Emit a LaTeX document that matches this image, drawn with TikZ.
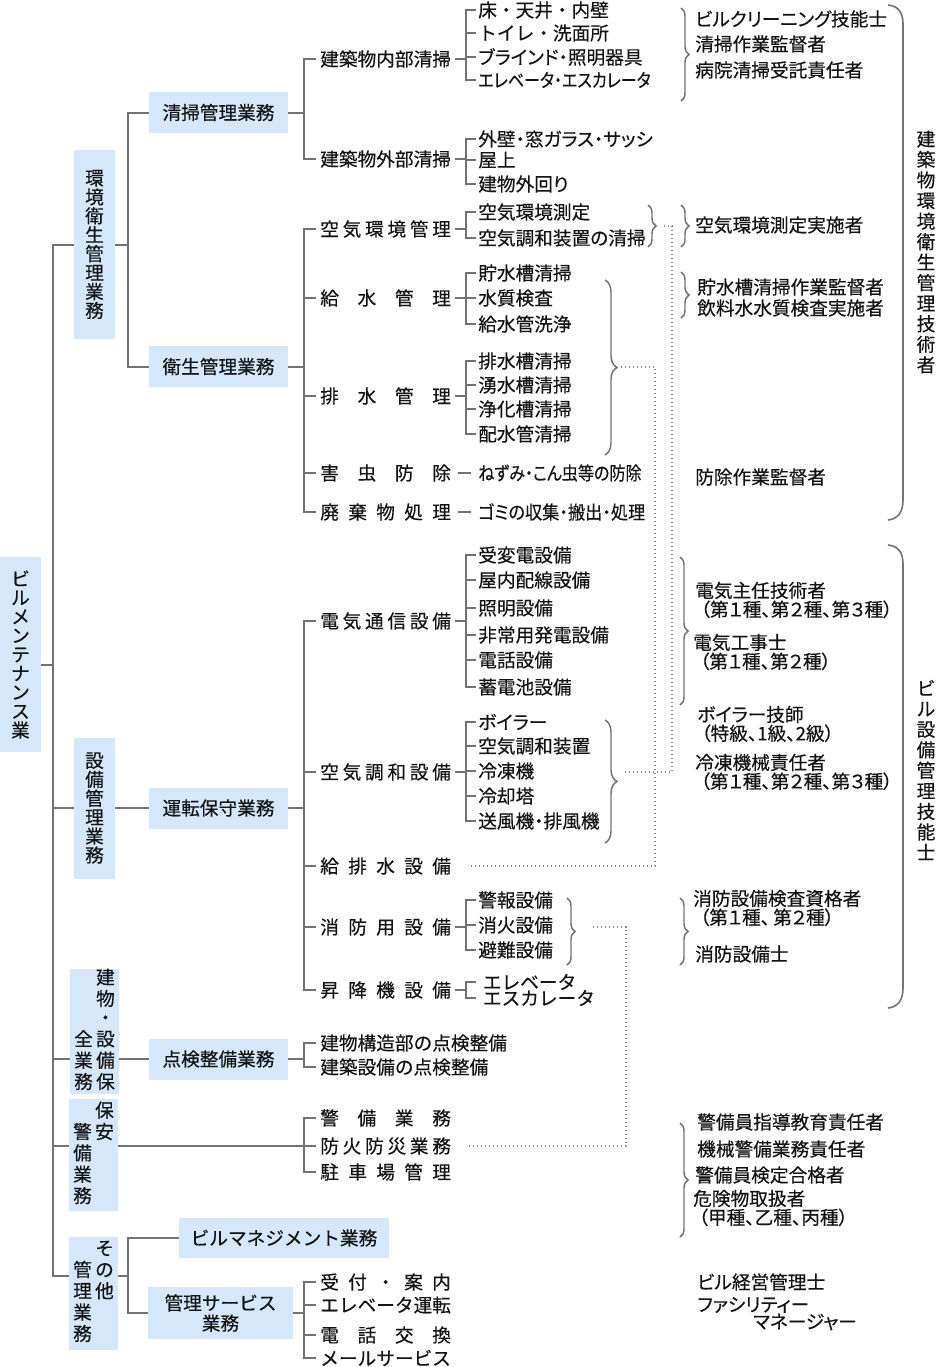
\documentclass[tikz,border=0pt]{standalone}
\usepackage{fontspec}
\setmainfont{Noto Sans CJK JP}[FakeBold=0.4]
\newfontfamily\pjp{Noto Sans CJK JP}[RawFeature=+palt, FakeBold=0.4]
\usepackage{tikz}
\usetikzlibrary{decorations.pathreplacing}

\definecolor{boxblue}{HTML}{D5E8FB}
\definecolor{linegray}{HTML}{737373}
\definecolor{textgray}{HTML}{141414}

\newcommand{\spr}[1]{\makebox[98pt][s]{#1}}

\begin{document}
\begin{tikzpicture}
	[x=0.75pt, y=-0.75pt,
	 every node/.style={text=textgray, font=\fontsize{14pt}{14.2pt}\selectfont},
	 box/.style={fill=boxblue, inner sep=0pt, align=center},
	 item/.style={anchor=west, inner xsep=3pt, inner ysep=0pt},
	 leaf/.style={anchor=west, inner xsep=1.5pt, inner ysep=0pt, font=\fontsize{14pt}{14.2pt}\pjp},
	 qual/.style={anchor=west, inner sep=0pt, align=left, font=\fontsize{14pt}{13pt}\pjp},
	 line/.style={draw=linegray, line width=1.5pt},
	 dots/.style={draw=linegray!85, line width=1pt, dotted},
	 brace/.style={draw=linegray, line width=1.1pt, decorate, decoration={brace, amplitude=6pt}},
	 bigbrk/.style={draw=linegray, line width=1.2pt}]
	\useasboundingbox (0,0) rectangle (937,1367);

	% boxes
	\node[box, minimum width=30.75pt, minimum height=146.25pt] (root) at (20.5,654.5) {ビ\\ル\\メ\\ン\\テ\\ナ\\ン\\ス\\業};
	\node[box, minimum width=30.75pt, minimum height=141.75pt] (kankyo) at (94.5,244.5) {環\\境\\衛\\生\\管\\理\\業\\務};
	\node[box, minimum width=30.75pt, minimum height=105.75pt] (setsubi) at (94.5,808) {設\\備\\管\\理\\業\\務};
	\node[box, minimum width=36.75pt, minimum height=84.75pt] (hozen) at (94.5,1031.5)
		{\begin{tabular}{@{}c@{\hspace{2.5pt}}c@{}} & 建\\ & 物\\ & ・\\ 全 & 設\\ 業 & 備\\ 務 & 保\end{tabular}};
	\node[box, minimum width=36.75pt, minimum height=84pt] (keibi) at (93.5,1155)
		{\begin{tabular}{@{}c@{\hspace{2.5pt}}c@{}} & 保\\ 警 & 安\\ 備 & \\ 業 & \\ 務 & \end{tabular}};
	\node[box, minimum width=36.75pt, minimum height=84.75pt] (sonota) at (93.5,1293.5)
		{\begin{tabular}{@{}c@{\hspace{2.5pt}}c@{}} & そ\\ 管 & の\\ 理 & 他\\ 業 & \\ 務 & \end{tabular}};
	\node[box, minimum width=104.25pt, minimum height=30.75pt] (seisou) at (218.5,112.5) {清掃管理業務};
	\node[box, minimum width=104.25pt, minimum height=30.75pt] (eisei) at (218.5,366.5) {衛生管理業務};
	\node[box, minimum width=104.25pt, minimum height=30.75pt] (unten) at (218.5,808) {運転保守業務};
	\node[box, minimum width=104.25pt, minimum height=30.75pt] (tenken) at (218.5,1059) {点検整備業務};
	\node[box, minimum width=157.5pt, minimum height=30pt] (bm) at (284,1238) {ビルマネジメント業務};
	\node[box, minimum width=108.75pt, minimum height=39pt] (kanri) at (220.5,1313) {管理サービス\\[1pt]業務};

	% junction columns
	\coordinate (trunk) at (53,0);
	\coordinate (v2) at (128,0);
	\coordinate (v3) at (304,0);
	\coordinate (v4) at (466,0);
	\coordinate (rootJ) at (41,665);
	\coordinate (sonotaJ) at (69,1276);

	% third level
	\node[item] (naibu) at (316,59) {\spr{建築物内部清掃}};
	\node[item] (gaibu) at (316,159) {\spr{建築物外部清掃}};
	\node[item] (kuuki) at (316,229) {\spr{空\hfill 気\hfill 環\hfill 境\hfill 管\hfill 理}};
	\node[item] (kyusui) at (316,298) {\spr{給\hfill 水\hfill 管\hfill 理}};
	\node[item] (haisui) at (316,396) {\spr{排\hfill 水\hfill 管\hfill 理}};
	\node[item] (gaichu) at (316,473) {\spr{害\hfill 虫\hfill 防\hfill 除}};
	\node[item] (haiki) at (316,512) {\spr{廃\hfill 棄\hfill 物\hfill 処\hfill 理}};
	\node[item] (denki) at (316,621) {\spr{電\hfill 気\hfill 通\hfill 信\hfill 設\hfill 備}};
	\node[item] (kucho) at (316,772) {\spr{空\hfill 気\hfill 調\hfill 和\hfill 設\hfill 備}};
	\node[item] (kyuhai) at (316,866) {\spr{給\hfill 排\hfill 水\hfill 設\hfill 備}};
	\node[item] (shobo) at (316,927) {\spr{消\hfill 防\hfill 用\hfill 設\hfill 備}};
	\node[item] (shoko) at (316,990) {\spr{昇\hfill 降\hfill 機\hfill 設\hfill 備}};
	\node[item] (kozo) at (316,1043) {建物構造部の点検整備};
	\node[item] (kenchiku) at (316,1067) {建築設備の点検整備};
	\node[item] (keibigyo) at (316,1118) {\spr{警\hfill 備\hfill 業\hfill 務}};
	\node[item] (bouka) at (316,1146) {\spr{防\hfill 火\hfill 防\hfill 災\hfill 業\hfill 務}};
	\node[item] (chusha) at (316,1172) {\spr{駐\hfill 車\hfill 場\hfill 管\hfill 理}};
	\node[item] (uketsuke) at (316,1282) {\spr{受\hfill 付\hfill ・\hfill 案\hfill 内}};
	\node[item] (elev) at (316,1305) {\spr{エレベータ運転}};
	\node[item] (denwa) at (316,1335) {\spr{電\hfill 話\hfill 交\hfill 換}};
	\node[item] (mail) at (316,1358) {\spr{メールサービス}};

	% trunk and second level
	\draw[line] (rootJ) -- (rootJ -| trunk);
	\draw[line] (kankyo.west) -- (kankyo.west -| trunk) |- (sonotaJ);
	\draw[line] (setsubi.west) -- (setsubi.west -| trunk);
	\draw[line] (hozen.west |- tenken) -- (trunk |- tenken);
	\draw[line] (keibi.west |- bouka) -- (trunk |- bouka);
	\draw[line] (kankyo.east) -- (kankyo.east -| v2);
	\draw[line] (seisou.west) -- (seisou.west -| v2) -- (eisei.west -| v2) -- (eisei.west);
	\draw[line] (setsubi.east) -- (unten.west);
	\draw[line] (hozen.east |- tenken) -- (tenken.west);
	\draw[line] (sonotaJ -| sonota.east) -- (sonotaJ -| v2);
	\draw[line] (bm.west) -- (bm.west -| v2) -- (kanri.west -| v2) -- (kanri.west);

	% second to third level
	\draw[line] (seisou.east) -- (seisou.east -| v3);
	\draw[line] (naibu.west) -- (naibu.west -| v3) -- (gaibu.west -| v3) -- (gaibu.west);
	\draw[line] (eisei.east) -- (eisei.east -| v3);
	\draw[line] (kuuki.west) -- (kuuki.west -| v3) -- (haiki.west -| v3) -- (haiki.west);
	\foreach \n in {kyusui, haisui, gaichu}
		\draw[line] (\n.west) -- (\n.west -| v3);
	\draw[line] (unten.east) -- (unten.east -| v3);
	\draw[line] (denki.west) -- (denki.west -| v3) -- (shoko.west -| v3) -- (shoko.west);
	\foreach \n in {kucho, kyuhai, shobo}
		\draw[line] (\n.west) -- (\n.west -| v3);
	\draw[line] (tenken.east) -- (tenken.east -| v3);
	\draw[line] (kozo.west) -- (kozo.west -| v3) -- (kenchiku.west -| v3) -- (kenchiku.west);
	\draw[line] (keibigyo.west) -- (keibigyo.west -| v3) -- (chusha.west -| v3) -- (chusha.west);
	\draw[line] (keibi.east |- bouka) -- (bouka.west);
	\draw[line] (kanri.east) -- (kanri.east -| v3);
	\draw[line] (uketsuke.west) -- (uketsuke.west -| v3) -- (mail.west -| v3) -- (mail.west);
	\foreach \n in {elev, denwa}
		\draw[line] (\n.west) -- (\n.west -| v3);

	% leaves
	\foreach \t/\y [count=\i] in {{\rmfamily 床・天井・内壁}/10, {\rmfamily トイレ・洗面所}/33, ブラインド・照明器具/57, {\scalebox{0.86}[1]{エレベータ・エスカレータ}}/80}
		\node[leaf] (a\i) at (476,\y) {\t};
	\foreach \t/\y [count=\i] in {外壁・窓ガラス・サッシ/139, 屋上/160, 建物外回り/184}
		\node[leaf] (b\i) at (476,\y) {\t};
	\foreach \t/\y [count=\i] in {空気環境測定/212, 空気調和装置の清掃/238}
		\node[leaf] (c\i) at (476,\y) {\t};
	\foreach \t/\y [count=\i] in {貯水槽清掃/273, 水質検査/298, 給水管洗浄/324}
		\node[leaf] (d\i) at (476,\y) {\t};
	\foreach \t/\y [count=\i] in {排水槽清掃/361, 湧水槽清掃/385, 浄化槽清掃/409, 配水管清掃/434}
		\node[leaf] (e\i) at (476,\y) {\t};
	\foreach \t/\y [count=\i] in {受変電設備/555, 屋内配線設備/580, 照明設備/608, 非常用発電設備/635, 電話設備/660, 蓄電池設備/687}
		\node[leaf] (f\i) at (476,\y) {\t};
	\foreach \t/\y [count=\i] in {ボイラー/722, 空気調和装置/746, 冷凍機/771, 冷却塔/796, 送風機・排風機/821}
		\node[leaf] (g\i) at (476,\y) {\t};
	\foreach \t/\y [count=\i] in {警報設備/900, 消火設備/925, 避難設備/950}
		\node[leaf] (h\i) at (476,\y) {\t};
	\foreach \t/\y [count=\i] in {エレベータ/982, エスカレータ/998}
		\node[leaf, inner xsep=5pt] (i\i) at (476,\y) {\rmfamily\t};
	\node[leaf] (nezumi) at (476,473) {\scalebox{0.86}[1]{ねずみ・こん虫等の防除}};
	\node[leaf] (gomi) at (476,512) {\scalebox{0.92}[1]{ゴミの収集・搬出・処理}};

	% third to fourth level
	\foreach \p/\g/\n in {naibu/a/4, gaibu/b/3, kuuki/c/2, kyusui/d/3, haisui/e/4, denki/f/6, kucho/g/5, shobo/h/3, shoko/i/2} {
		\draw[line] (\p.east) -- (\p.east -| v4);
		\draw[line] (\g1.west) -- (\g1.west -| v4) -- (\g\n.west -| v4) -- (\g\n.west);
		\foreach \i in {2,...,\n}
			\draw[line] (\g\i.west) -- (\g\i.west -| v4);
	}
	\draw[line, shorten <=2pt, shorten >=4pt] (gaichu.east) -- (nezumi.west);
	\draw[line, shorten <=2pt, shorten >=4pt] (haiki.east) -- (gomi.west);

	% qualifications
	\node[qual] (q1) at (695,19) {ビルクリーニング技能士};
	\node[qual] (q2) at (695,44) {清掃作業監督者};
	\node[qual] (q3) at (695,70) {病院清掃受託責任者};
	\node[qual] (q4) at (695,225) {空気環境測定実施者};
	\node[qual] (q5) at (697,287) {貯水槽清掃作業監督者};
	\node[qual] (q6) at (697,308) {飲料水水質検査実施者};
	\node[qual] (q7) at (695,477) {防除作業監督者};
	\node[qual] (q8) at (695,600) {電気主任技術者\\\hspace*{4pt}（第１種、第２種、第３種）};
	\node[qual] (q9) at (693,652) {電気工事士\\\hspace*{5pt}（第１種、第２種）};
	\node[qual] (q10) at (697,724) {ボイラー技師\\\hspace*{3pt}（特級、1級、2級）};
	\node[qual] (q11) at (695,772) {冷凍機械責任者\\\hspace*{4pt}（第１種、第２種、第３種）};
	\node[qual] (q12) at (693,908) {消防設備検査資格者\\\hspace*{5pt}（第１種、\,第２種）};
	\node[qual] (q13) at (695,954) {消防設備士};
	\node[qual] (q14) at (697,1122) {警備員指導教育責任者};
	\node[qual] (q15) at (697,1149) {機械警備業務責任者};
	\node[qual] (q16) at (695,1175) {警備員検定合格者};
	\node[qual] (q17) at (693,1208) {危険物取扱者\\\hspace*{4pt}（甲種、乙種、丙種）};
	\node[qual] (q18) at (697,1282) {ビル経営管理士};
	\node[qual] (q19) at (697,1305) {ファシリティー};
	\node[qual] (q20) at (753,1322) {マネージャー};

	\node[align=center, font=\fontsize{14pt}{15.4pt}\selectfont] (tech1) at (926,252) {建\\築\\物\\環\\境\\衛\\生\\管\\理\\技\\術\\者};
	\node[align=center, font=\fontsize{14pt}{15.4pt}\selectfont] (tech2) at (926,770) {ビ\\ル\\設\\備\\管\\理\\技\\能\\士};

	% braces
	\draw[brace] (681,8) -- (681,101);
	\draw[brace] (681,205) -- (681,247);
	\draw[brace] (648,205) -- (648,247);
	\draw[brace] (681,272) -- (681,318);
	\draw[brace, decoration={amplitude=9pt}] (605,280) -- (605,455);
	\draw[brace] (680,557) -- (680,705);
	\draw[brace, decoration={amplitude=9pt}] (605,720) -- (605,843);
	\draw[brace] (567,898) -- (567,965);
	\draw[brace] (680,898) -- (680,965);
	\draw[brace] (680,1123) -- (680,1237);
	\draw[bigbrk] (888,5) .. controls (898,6) and (903,12) .. (903,24) -- (903,500) .. controls (903,512) and (898,519) .. (888,520);
	\draw[bigbrk] (888,545) .. controls (898,546) and (903,552) .. (903,564) -- (903,988) .. controls (903,1000) and (898,1007) .. (888,1008);

	% dotted links
	\coordinate (ctip) at (664,226);
	\coordinate (actip) at (625,772);
	\coordinate (dtip) at (621,367);
	\coordinate (ftip) at (593,927);
	\coordinate (col1) at (672,0);
	\coordinate (col2) at (655,0);
	\coordinate (col3) at (626,0);
	\draw[dots] (ctip) -- (ctip -| col1) -- (col1 |- actip) -- (actip);
	\draw[dots, shorten >=10pt] (dtip) -- (dtip -| col2) -- (col2 |- kyuhai.east) -- (kyuhai.east);
	\draw[dots, shorten >=10pt] (ftip) -- (ftip -| col3) -- (col3 |- bouka.east) -- (bouka.east);
\end{tikzpicture}
\end{document}
